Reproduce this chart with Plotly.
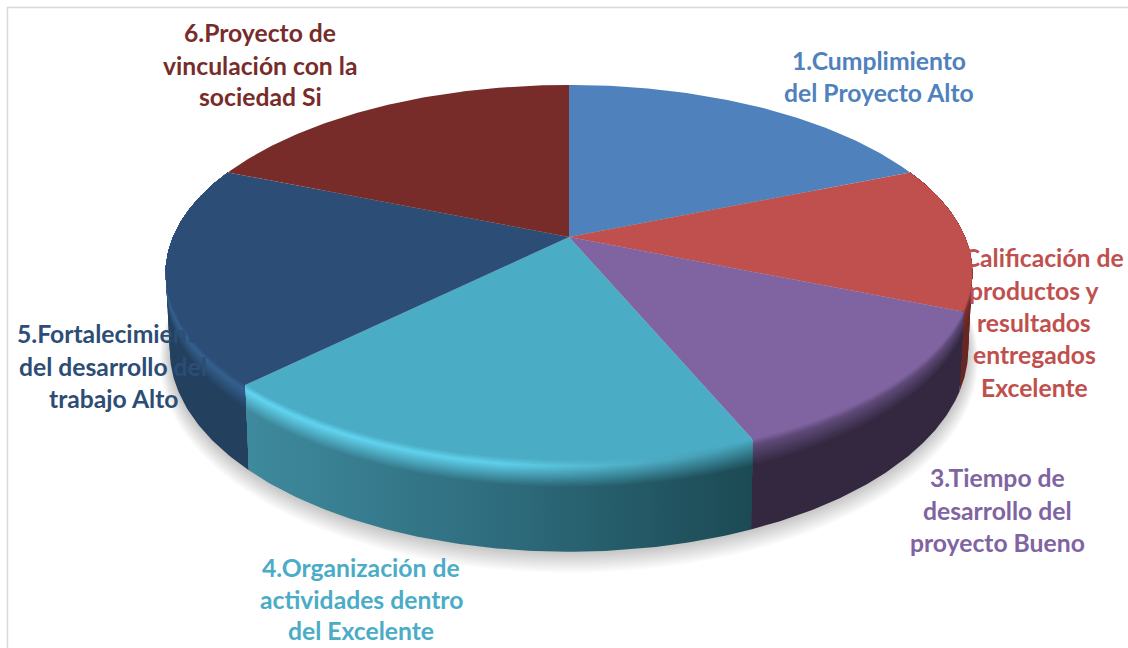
import numpy as np
import plotly.graph_objects as go

# ---- data ----
categories = ["1.Cumplimiento del Proyecto Alto",
              "2.Calificación de productos y resultados entregados Excelente",
              "3.Tiempo de desarrollo del proyecto Bueno",
              "4.Organización de actividades dentro del Excelente",
              "5.Fortalecimiento del desarrollo del trabajo Alto",
              "6.Proyecto de vinculación con la sociedad Si"]
values = [3, 2, 2, 3, 3, 3]
top_colors = ["#4f81bd", "#c0504d", "#8064a2", "#4bacc6", "#2c4d75", "#772c2a"]
rim_colors = [["#4f81bd"], ["#7d2f2d"], ["#5e4a78"], ["#62d6f2", "#5fd0ea", "#3f93a8"], ["#35608f"], ["#772c2a"]]
side_colors = [["#3a6090"], ["#662724"], ["#332840"], ["#3f8a9e", "#2e6c7d", "#1c4a54"], ["#23405f"], ["#5a2120"]]

label_lines = [["1.Cumplimiento", "del Proyecto Alto"],
               ["2.Calificación de", "productos y", "resultados", "entregados", "Excelente"],
               ["3.Tiempo de", "desarrollo del", "proyecto Bueno"],
               ["4.Organización de", "actividades dentro", "del Excelente"],
               ["5.Fortalecimiento", "del desarrollo del", "trabajo Alto"],
               ["6.Proyecto de", "vinculación con la", "sociedad Si"]]
label_x = [879, 1034, 997, 361, 113, 260]
label_y = [[60, 92], [257, 290, 322, 354, 387], [477, 510, 542], [567, 599, 630], [333, 366, 398], [32, 65, 96]]

# ---- projection of the disc ----
CX, CY, R, RY, K = 569, 237, 396, 181, 0.19
CYB, RB, RYB, KB = 311, 392, 195, 0.19


def top_curve(t, grow=0.0):
    X, Y = np.sin(t), -np.cos(t)
    s = 1 / (1 - K * Y)
    return CX + (R + grow) * X * s, CY + (RY + grow) * Y * s


def bottom_curve(t, grow=0.0, drop=0.0):
    X, Y = np.sin(t), -np.cos(t)
    s = 1 / (1 - KB * Y)
    return CX + (RB + grow) * X * s, CYB + drop + (RYB + grow) * Y * s


def hex_rgb(c):
    return np.array([int(c[i:i + 2], 16) for i in (1, 3, 5)], float)


def mix(a, b, f):
    m = hex_rgb(a) * (1 - f) + hex_rgb(b) * f
    return "#%02x%02x%02x" % tuple(int(round(v)) for v in m)


def stops(colors):
    return colors * 2 if len(colors) == 1 else colors


fractions = np.cumsum([0] + values) / sum(values)
starts = 2 * np.pi * fractions[:-1]
ends = 2 * np.pi * fractions[1:]

fig = go.Figure()


def poly(x, y, color=None, scale=None):
    kw = dict(fillcolor=color) if scale is None else dict(
        fillgradient=dict(type="horizontal", colorscale=scale))
    fig.add_trace(go.Scatter(x=list(x), y=list(y), mode="lines", fill="toself",
                             line=dict(width=0), hoverinfo="skip", showlegend=False, **kw))


# soft shadow under the disc
th = np.linspace(0, 2 * np.pi, 240)
for e in range(22, 0, -2):
    sx, sy = bottom_curve(th, grow=e * 0.45, drop=e * 0.4)
    poly(sx, sy, "rgba(0,0,0,0.018)")

# side wall + bevel
PEAK, END = 0.07, 0.30
bands = list(np.round(np.arange(1.0, 0.3, -0.08), 3)) + list(np.round(np.arange(0.30, 0.0, -0.015), 3))
for i in [1, 4, 2, 3]:
    t = np.linspace(starts[i], ends[i], 90)
    tx, ty = top_curve(t)
    bx, by = bottom_curve(t)
    rim = stops(rim_colors[i])
    side = stops(side_colors[i])
    for f in bands:
        lx, ly = tx + f * (bx - tx), ty + f * (by - ty)
        n = max(len(rim), len(side))
        cols = []
        for j in range(n):
            u = j / (n - 1)
            r_c = rim[int(round((len(rim) - 1) * u))]
            s_c = side[int(round((len(side) - 1) * u))]
            if f >= END:
                c = s_c
            elif f >= PEAK:
                c = mix(r_c, s_c, (f - PEAK) / (END - PEAK))
            else:
                c = mix(top_colors[i], r_c, f / PEAK)
            cols.append(c)
        scale = [[j / (n - 1), cols[j]] for j in range(n)]
        poly(np.r_[tx, lx[::-1]], np.r_[ty, ly[::-1]], scale=scale)

# top faces
for i in range(len(values)):
    t = np.linspace(starts[i], ends[i], 90)
    tx, ty = top_curve(t)
    poly(np.r_[CX, tx, CX], np.r_[CY, ty, CY], top_colors[i])

shapes = [
    dict(type="line", x0=7, x1=1128, y0=7.5, y1=7.5, line=dict(color="#d9d9d9", width=1.5)),
    dict(type="line", x0=7.5, x1=7.5, y0=7, y1=648, line=dict(color="#d9d9d9", width=1.5)),
]

annotations = []
for i, lines in enumerate(label_lines):
    for line, y in zip(lines, label_y[i]):
        annotations.append(dict(x=label_x[i], y=y, text=line, showarrow=False,
                                xanchor="center", yanchor="middle",
                                font=dict(family="Lato", size=24.7, color=top_colors[i], weight="bold")))

fig.update_layout(
    width=1128, height=648, margin=dict(l=0, r=0, t=0, b=0),
    paper_bgcolor="white", plot_bgcolor="white", showlegend=False,
    xaxis=dict(range=[0, 1128], visible=False, fixedrange=True),
    yaxis=dict(range=[648, 0], visible=False, fixedrange=True),
    shapes=shapes, annotations=annotations,
)
fig.write_html("out.html", config=dict(displayModeBar=False),
               post_script="document.body.style.margin='0';document.documentElement.style.overflow='hidden';")
